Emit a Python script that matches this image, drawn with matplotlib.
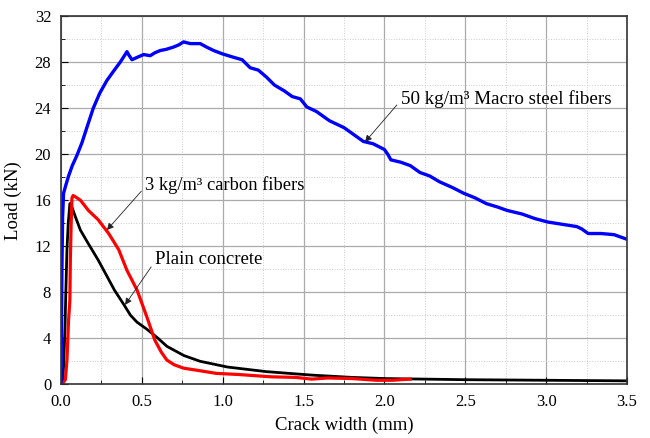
import matplotlib.pyplot as plt
from matplotlib.ticker import MultipleLocator

plt.rcParams['font.family'] = ['Liberation Serif', 'DejaVu Serif']

# 50 kg/m3 macro steel fibers
steel_x = [0, 0.003, 0.006, 0.01, 0.016, 0.03, 0.047, 0.07, 0.099, 0.13, 0.16, 0.2, 0.24,
           0.284, 0.33, 0.367, 0.39, 0.408, 0.42, 0.439, 0.47, 0.511, 0.552, 0.58, 0.614,
           0.65, 0.696, 0.73, 0.758, 0.8, 0.861, 0.9, 0.944, 1.0, 1.07, 1.12, 1.17, 1.22,
           1.27, 1.32, 1.38, 1.43, 1.48, 1.52, 1.58, 1.62, 1.66, 1.75, 1.81, 1.87, 1.93,
           2.0, 2.02, 2.04, 2.1, 2.16, 2.22, 2.28, 2.34, 2.42, 2.49, 2.56, 2.63, 2.7,
           2.76, 2.85, 2.93, 3.01, 3.1, 3.19, 3.22, 3.26, 3.34, 3.42, 3.46, 3.5]
steel_y = [0, 5, 10, 14.5, 16.6, 17.3, 18.1, 19.0, 19.9, 21.0, 22.3, 24.0, 25.3,
           26.4, 27.3, 28.0, 28.5, 28.9, 28.6, 28.2, 28.4, 28.65, 28.55, 28.8, 29.0,
           29.1, 29.3, 29.5, 29.75, 29.6, 29.6, 29.3, 29.0, 28.7, 28.4, 28.2, 27.5, 27.3,
           26.7, 26.0, 25.5, 25.0, 24.8, 24.1, 23.7, 23.3, 22.9, 22.3, 21.7, 21.1, 20.9,
           20.4, 20.0, 19.5, 19.3, 19.0, 18.4, 18.1, 17.6, 17.1, 16.6, 16.2, 15.7, 15.4,
           15.1, 14.8, 14.4, 14.1, 13.9, 13.7, 13.5, 13.1, 13.1, 13.0, 12.8, 12.6]

# 3 kg/m3 carbon fibers
carbon_x = [0.005, 0.027, 0.037, 0.047, 0.055, 0.058, 0.063, 0.068, 0.075, 0.088, 0.12,
            0.17, 0.23, 0.295, 0.357, 0.408, 0.47, 0.53, 0.58, 0.62, 0.655, 0.7, 0.758,
            0.85, 0.96, 1.1, 1.3, 1.45, 1.55, 1.65, 1.8, 1.95, 2.05, 2.1, 2.16]
carbon_y = [0, 0.4, 2.1, 5.6, 7.3, 10.8, 14.0, 16.2, 16.4, 16.3, 16.0,
            15.1, 14.3, 13.1, 11.7, 9.9, 8.2, 5.9, 3.85, 2.8, 2.1, 1.7, 1.4,
            1.2, 0.95, 0.85, 0.65, 0.6, 0.45, 0.55, 0.5, 0.35, 0.35, 0.4, 0.45]

# plain concrete
plain_x = [0.008, 0.016, 0.025, 0.03, 0.037, 0.045, 0.055, 0.06, 0.088, 0.12, 0.17,
           0.23, 0.284, 0.33, 0.39, 0.43, 0.47, 0.53, 0.6, 0.655, 0.76, 0.86, 1.03,
           1.27, 1.55, 1.8, 2.0, 2.5, 3.0, 3.5]
plain_y = [0, 1.5, 5, 8, 11.7, 14, 15.7, 15.7, 14.6, 13.4, 12.2,
           10.8, 9.4, 8.2, 6.9, 6.0, 5.4, 4.8, 4.0, 3.3, 2.5, 2.0, 1.5,
           1.1, 0.8, 0.6, 0.5, 0.4, 0.35, 0.3]

fig = plt.figure(figsize=(6.5, 4.38), dpi=100)
ax = fig.add_axes([0.0938, 0.1226, 0.8708, 0.8409])

ax.plot(plain_x, plain_y, color='black', lw=2)
ax.plot(carbon_x, carbon_y, color='#ff0000', lw=2.3)
ax.plot(steel_x, steel_y, color='#0000ff', lw=2.4)

ax.set_xlim(0, 3.5)
ax.set_ylim(0, 32)
ax.xaxis.set_major_locator(MultipleLocator(0.5))
ax.xaxis.set_minor_locator(MultipleLocator(0.25))
ax.yaxis.set_major_locator(MultipleLocator(4))
ax.yaxis.set_minor_locator(MultipleLocator(2))
ax.grid(which='major', color='#aaaaaa', lw=0.9)
ax.grid(which='minor', color='#cccccc', lw=0.7, ls=':')
ax.set_axisbelow(True)
ax.tick_params(which='both', direction='in', labelsize=12)
ax.tick_params(which='major', length=5, pad=7)
ax.tick_params(which='minor', length=3)
ax.xaxis.set_major_formatter(lambda v, p: f"{v:.1f}")
for s in ax.spines.values():
    s.set_linewidth(1.2)
    s.set_color('#333333')

ax.set_xlabel("Crack width (mm)", fontsize=13.5, labelpad=5)
ax.set_ylabel("Load (kN)", fontsize=13.5, labelpad=9)

arr = dict(arrowstyle='-|>', color='#222222', lw=0.6, mutation_scale=10,
           relpos=(0, 0.4), shrinkA=1, shrinkB=0)
ax.annotate("50 kg/m³ Macro steel fibers", xy=(1.88, 21.05), xytext=(2.1, 24.8),
            fontsize=13.7, va='center', ha='left', arrowprops=arr)
ax.annotate("3 kg/m³ carbon fibers", xy=(0.284, 13.4), xytext=(0.52, 17.3),
            fontsize=13.3, va='center', ha='left', arrowprops=arr)
ax.annotate("Plain concrete", xy=(0.396, 6.9), xytext=(0.58, 10.8),
            fontsize=13.5, va='center', ha='left', arrowprops=arr)

fig.savefig("out.png")
